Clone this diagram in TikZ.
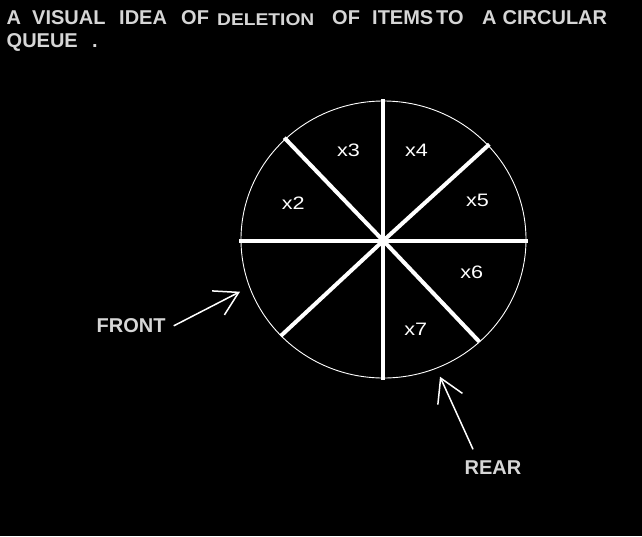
\documentclass[tikz,border=0pt]{standalone}
\usepackage{fontspec}
\setmainfont{Liberation Sans}
\usetikzlibrary{arrows.meta}
\definecolor{titlegray}{HTML}{D6D6D6}
\newcommand{\widecell}[1]{\scalebox{1.2}[1]{#1}}
\begin{document}
\begin{tikzpicture}[x=1pt,y=-1pt,
  title/.style={text=titlegray, font=\fontsize{20}{24}\selectfont\bfseries, anchor=base west, inner sep=0pt},
  cell/.style={text=white, font=\fontsize{18}{22}\selectfont, anchor=base, inner sep=0pt},
  spoke/.style={draw=white, line width=4pt},
  rim/.style={draw=white, line width=0.9pt},
  pointer/.style={draw=white, line width=1.5pt, -{Straight Barb[length=23pt,width=27pt]}},
  tag/.style={text=titlegray, font=\fontsize{20}{24}\selectfont\bfseries, anchor=base west, inner sep=0pt}
]
\fill[black] (0,0) rectangle (642,536);
\useasboundingbox (0,0) rectangle (642,536);

% title
\node[title] (t1) at (6.5,24.5) {A};
\node[title] (t2) at (32,24.5) {VISUAL};
\node[title] (t3) at (119,24.5) {IDEA};
\node[title] (t4) at (181,24.5) {OF};
\node[title, font=\fontsize{17}{20}\selectfont\bfseries] (t5) at (217,25) {\scalebox{1.13}[1]{DELETION}};
\node[title] (t6) at (332,24.5) {OF};
\node[title] (t7) at (372,24.5) {ITEMS};
\node[title] (t8) at (436,24.5) {TO};
\node[title] (t9) at (482,24.5) {A};
\node[title] (t10) at (502.5,24.5) {CIRCULAR};
\node[title] (t11) at (6.5,47) {QUEUE};
\node[title] (t12) at (92,47) {.};

% circle and spokes
\coordinate (hub) at (383.3,240.7);
\coordinate (W) at (239.3,240.7);
\coordinate (E) at (527.7,240.7);
\coordinate (N) at (383.3,99.3);
\coordinate (S) at (383.3,380);
\coordinate (NW) at (284.3,137.7);
\coordinate (SE) at (479.3,341.7);
\coordinate (NE) at (489.3,144.3);
\coordinate (SW) at (280.7,336);
\draw[rim] (383.5,239.5) ellipse [x radius=142.5, y radius=138.5];
\draw[spoke] (W) -- (hub) -- (E);
\draw[spoke] (N) -- (hub) -- (S);
\draw[spoke] (NW) -- (hub) -- (SE);
\draw[spoke] (NE) -- (hub) -- (SW);

% cell labels
\node[cell] (x3) at (348.5,156.5) {\widecell{x3}};
\node[cell] (x4) at (416.5,156.5) {\widecell{x4}};
\node[cell] (x2) at (293.2,209.3) {\widecell{x2}};
\node[cell] (x5) at (477.5,206) {\widecell{x5}};
\node[cell] (x6) at (471.7,278.7) {\widecell{x6}};
\node[cell] (x7) at (415.8,335.7) {\widecell{x7}};

% pointers
\node[tag] (front) at (96.5,332.7) {FRONT};
\node[tag] (rear) at (464.5,474.3) {REAR};
\coordinate (fronttip) at (240,291.7);
\coordinate (reartip) at (440,376.7);
\draw[pointer] ([xshift=8pt]front.east) -- (fronttip);
\draw[pointer] ([xshift=-20pt,yshift=11pt]rear.north) -- (reartip);
\end{tikzpicture}
\end{document}
